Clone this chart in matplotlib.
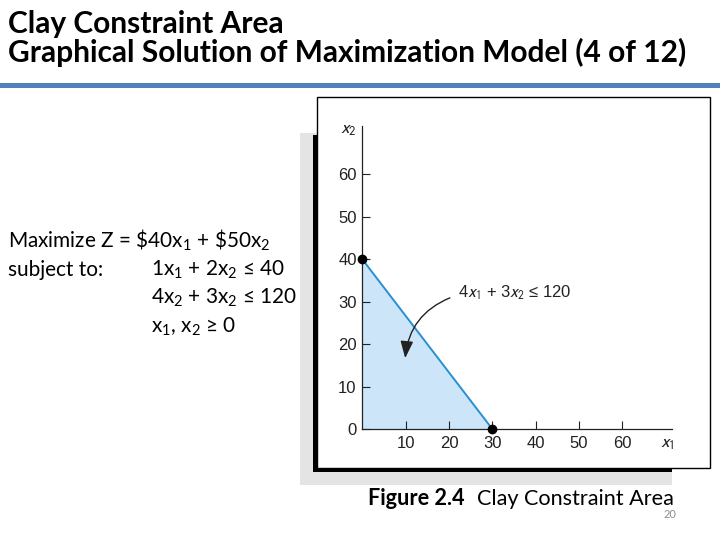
import matplotlib
matplotlib.use('Agg')
import matplotlib.pyplot as plt
from matplotlib.patches import Rectangle

# clay constraint: 4x1 + 3x2 <= 120
clay_coef = [4, 3]
clay_limit = 120
x_ticks = [10, 20, 30, 40, 50, 60]
y_ticks = [0, 10, 20, 30, 40, 50, 60]
axis_max = 71.4

x1_cut = clay_limit / clay_coef[0]
x2_cut = clay_limit / clay_coef[1]
corner_x = [0, x1_cut]
corner_y = [x2_cut, 0]

plt.rcParams['mathtext.fontset'] = 'custom'
plt.rcParams['mathtext.rm'] = 'Lato'
plt.rcParams['mathtext.it'] = 'Lato:italic'
plt.rcParams['mathtext.bf'] = 'Lato:bold'

W, H = 720, 540
fig = plt.figure(figsize=(7.2, 5.4), dpi=100)


def rect(x0, y0, x1, y1, **kw):
    # pixel box (top-left origin) -> figure patch
    fig.patches.append(Rectangle((x0 / W, 1 - y1 / H), (x1 - x0) / W, (y1 - y0) / H,
                                 transform=fig.transFigure, zorder=-5, **kw))


def txt(x, y, s, **kw):
    return fig.text(x / W, 1 - y / H, s, va='baseline', **kw)


def fit(t, width):
    r = fig.canvas.get_renderer()
    w = t.get_window_extent(r).width
    t.set_fontsize(t.get_fontsize() * width / w)
    return t.get_fontsize()


# title
t2 = txt(8, 62, 'Graphical Solution of Maximization Model (4 of 12)',
         family='Lato', fontweight='bold', fontsize=20)
size = fit(t2, 678)
txt(8, 33, 'Clay Constraint Area', family='Lato', fontweight='bold', fontsize=size)
rect(0, 83, W, 88, fc='#4f81bd', ec='none')

# model text
m1 = txt(8, 248, r'Maximize Z = \$40x$_1$ + \$50x$_2$', family='Lato', fontsize=14)
size = fit(m1, 263)
txt(8, 276, 'subject to:', family='Lato', fontsize=size)
txt(151, 276, r'1x$_1$ + 2x$_2$ ≤ 40', family='Lato', fontsize=size)
txt(151, 304, r'4x$_2$ + 3x$_2$ ≤ 120', family='Lato', fontsize=size)
txt(151, 333, r'x$_1$, x$_2$ ≥ 0', family='Lato', fontsize=size)

# caption
c2 = txt(477, 505, 'Clay Constraint Area', family='Lato', fontsize=size)
size_c = fit(c2, 197)
txt(368, 505, 'Figure 2.4', family='Lato', fontweight='bold', fontsize=size_c)
txt(676, 518, '20', family='Lato', fontsize=8, color='#8c8c8c', ha='right')

# figure frame with shadow
rect(300, 133, 672, 485, fc='#e4e4e4', ec='none')
rect(313, 135, 672, 472, fc='black', ec='none')
rect(317, 97, 710, 468, fc='white', ec='black', lw=1)

# graph
ax = fig.add_axes([362.3 / W, 1 - 429 / H, (671.7 - 362.3) / W, (429 - 126) / H])
ax.set_facecolor('none')
ax.fill([0] + corner_x, [0] + corner_y, color='#cde5f8', lw=0)
ax.plot(corner_x, corner_y, color='#2690d2', lw=1.4)
ax.plot(corner_x, corner_y, 'o', color='black', ms=6, clip_on=False, zorder=5)

ax.set_xlim(0, axis_max)
ax.set_ylim(0, axis_max)
ax.set_xticks(x_ticks)
ax.set_yticks(y_ticks)
for side in ['top', 'right']:
    ax.spines[side].set_visible(False)
for side in ['left', 'bottom']:
    ax.spines[side].set_color('#222222')
    ax.spines[side].set_linewidth(0.9)
ax.tick_params(direction='in', length=6, width=0.8, color='#222222', labelsize=12)
ax.tick_params(axis='y', pad=4)
ax.tick_params(axis='x', pad=5)
for lab in ax.get_xticklabels() + ax.get_yticklabels():
    lab.set_family('Liberation Sans')
    lab.set_color('#222222')

ax.text(-0.046, 0.99, r'$x_2$', transform=ax.transAxes, ha='center', va='center',
        fontsize=13, math_fontfamily='stixsans', color='#222222')
ax.text(0.985, -0.046, r'$x_1$', transform=ax.transAxes, ha='center', va='center',
        fontsize=13, math_fontfamily='stixsans', color='#222222')

ax.text(22.1, 32, r'4$x_1$ + 3$x_2$ ≤ 120', family='Liberation Sans', fontsize=12,
        math_fontfamily='stixsans', va='center', color='#222222')
ax.annotate('', xy=(9.9, 16.7), xytext=(20.2, 30.9),
            arrowprops=dict(arrowstyle='-|>,head_length=0.8,head_width=0.3',
                            connectionstyle='arc3,rad=0.3', color='#222222', lw=1,
                            shrinkA=0, shrinkB=0, mutation_scale=13))

fig.savefig('out.png', dpi=100)
plt.close()
